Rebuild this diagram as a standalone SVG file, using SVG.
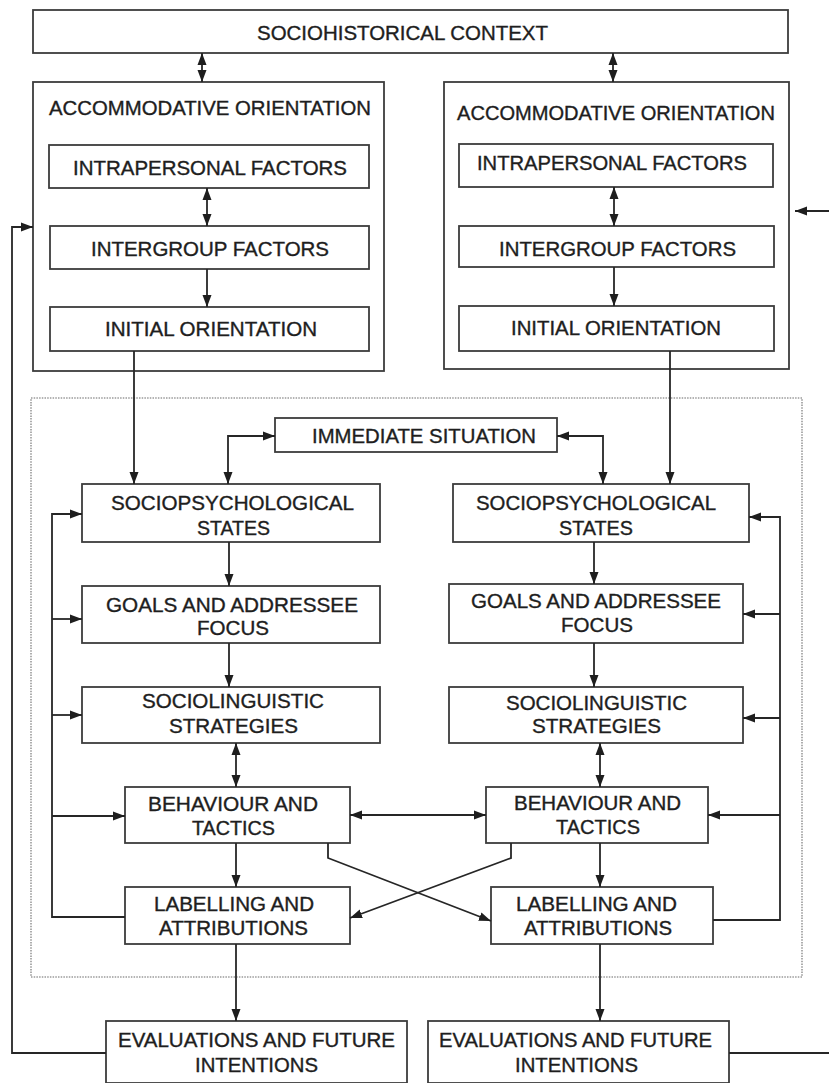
<svg xmlns="http://www.w3.org/2000/svg" width="829" height="1083" viewBox="0 0 829 1083">
  <style>
    .box { fill: #ffffff; stroke: #3c3c3c; stroke-width: 1.8; }
    .frame { fill: none; stroke: #9a9a9a; stroke-width: 1.6; stroke-dasharray: 1.5 1.2; }
    .lbl { font-family: "Liberation Sans", Arial, sans-serif; font-size: 19.5px; fill: #1e1e1e; stroke: #1e1e1e; stroke-width: 0.35; }
    .wire { fill: none; stroke: #262626; stroke-width: 1.8; }
    .one { marker-end: url(#head); }
    .two { marker-start: url(#head); marker-end: url(#head); }
  </style>
  <defs>
    <marker id="head" markerUnits="userSpaceOnUse" markerWidth="12" markerHeight="10" viewBox="0 0 12 10" refX="12" refY="5" orient="auto-start-reverse">
      <path d="M0,0.5 L12,5 L0,9.5 z" fill="#1e1e1e"/>
    </marker>
  </defs>

  <rect width="829" height="1083" fill="#ffffff"/>

  <!-- interaction frame -->
  <rect class="frame" x="31" y="398" width="771" height="579"/>

  <g id="sociohistorical-context">
    <rect class="box" x="33" y="10" width="755" height="43"/>
    <text class="lbl" x="257" y="40" textLength="291" lengthAdjust="spacingAndGlyphs">SOCIOHISTORICAL CONTEXT</text>
  </g>

  <g id="orientation-left">
    <rect class="box" x="33" y="82" width="351" height="289"/>
    <text class="lbl" x="49" y="115" textLength="322" lengthAdjust="spacingAndGlyphs">ACCOMMODATIVE ORIENTATION</text>
  </g>
  <g id="intrapersonal-left">
    <rect class="box" x="49" y="145" width="320" height="43"/>
    <text class="lbl" x="73" y="175" textLength="274" lengthAdjust="spacingAndGlyphs">INTRAPERSONAL FACTORS</text>
  </g>
  <g id="intergroup-left">
    <rect class="box" x="50" y="226" width="319" height="43"/>
    <text class="lbl" x="91" y="256" textLength="238" lengthAdjust="spacingAndGlyphs">INTERGROUP FACTORS</text>
  </g>
  <g id="initial-left">
    <rect class="box" x="50" y="307" width="319" height="44"/>
    <text class="lbl" x="105" y="336" textLength="212" lengthAdjust="spacingAndGlyphs">INITIAL ORIENTATION</text>
  </g>

  <g id="orientation-right">
    <rect class="box" x="444" y="82" width="345" height="287"/>
    <text class="lbl" x="457" y="120" textLength="318" lengthAdjust="spacingAndGlyphs">ACCOMMODATIVE ORIENTATION</text>
  </g>
  <g id="intrapersonal-right">
    <rect class="box" x="459" y="144" width="314" height="43"/>
    <text class="lbl" x="477" y="170" textLength="270" lengthAdjust="spacingAndGlyphs">INTRAPERSONAL FACTORS</text>
  </g>
  <g id="intergroup-right">
    <rect class="box" x="459" y="226" width="315" height="41"/>
    <text class="lbl" x="499" y="256" textLength="237" lengthAdjust="spacingAndGlyphs">INTERGROUP FACTORS</text>
  </g>
  <g id="initial-right">
    <rect class="box" x="459" y="306" width="315" height="45"/>
    <text class="lbl" x="511" y="335" textLength="210" lengthAdjust="spacingAndGlyphs">INITIAL ORIENTATION</text>
  </g>

  <g id="immediate-situation">
    <rect class="box" x="275" y="418" width="282" height="34"/>
    <text class="lbl" x="312" y="443" textLength="224" lengthAdjust="spacingAndGlyphs">IMMEDIATE SITUATION</text>
  </g>

  <g id="states-left">
    <rect class="box" x="82" y="484" width="298" height="58"/>
    <text class="lbl" x="111" y="510" textLength="243" lengthAdjust="spacingAndGlyphs">SOCIOPSYCHOLOGICAL</text>
    <text class="lbl" x="197" y="535" textLength="73" lengthAdjust="spacingAndGlyphs">STATES</text>
  </g>
  <g id="states-right">
    <rect class="box" x="453" y="484" width="296" height="58"/>
    <text class="lbl" x="476" y="510" textLength="240" lengthAdjust="spacingAndGlyphs">SOCIOPSYCHOLOGICAL</text>
    <text class="lbl" x="559" y="535" textLength="74" lengthAdjust="spacingAndGlyphs">STATES</text>
  </g>

  <g id="goals-left">
    <rect class="box" x="82" y="586" width="298" height="57"/>
    <text class="lbl" x="106" y="612" textLength="252" lengthAdjust="spacingAndGlyphs">GOALS AND ADDRESSEE</text>
    <text class="lbl" x="197" y="635" textLength="72" lengthAdjust="spacingAndGlyphs">FOCUS</text>
  </g>
  <g id="goals-right">
    <rect class="box" x="449" y="584" width="294" height="59"/>
    <text class="lbl" x="471" y="608" textLength="250" lengthAdjust="spacingAndGlyphs">GOALS AND ADDRESSEE</text>
    <text class="lbl" x="561" y="632" textLength="72" lengthAdjust="spacingAndGlyphs">FOCUS</text>
  </g>

  <g id="strategies-left">
    <rect class="box" x="82" y="687" width="298" height="56"/>
    <text class="lbl" x="142" y="708" textLength="182" lengthAdjust="spacingAndGlyphs">SOCIOLINGUISTIC</text>
    <text class="lbl" x="169" y="733" textLength="129" lengthAdjust="spacingAndGlyphs">STRATEGIES</text>
  </g>
  <g id="strategies-right">
    <rect class="box" x="449" y="687" width="294" height="56"/>
    <text class="lbl" x="506" y="710" textLength="181" lengthAdjust="spacingAndGlyphs">SOCIOLINGUISTIC</text>
    <text class="lbl" x="532" y="733" textLength="129" lengthAdjust="spacingAndGlyphs">STRATEGIES</text>
  </g>

  <g id="behaviour-left">
    <rect class="box" x="125" y="787" width="225" height="56"/>
    <text class="lbl" x="148" y="811" textLength="170" lengthAdjust="spacingAndGlyphs">BEHAVIOUR AND</text>
    <text class="lbl" x="192" y="835" textLength="83" lengthAdjust="spacingAndGlyphs">TACTICS</text>
  </g>
  <g id="behaviour-right">
    <rect class="box" x="486" y="787" width="222" height="56"/>
    <text class="lbl" x="514" y="810" textLength="167" lengthAdjust="spacingAndGlyphs">BEHAVIOUR AND</text>
    <text class="lbl" x="556" y="834" textLength="84" lengthAdjust="spacingAndGlyphs">TACTICS</text>
  </g>

  <g id="labelling-left">
    <rect class="box" x="125" y="887" width="225" height="57"/>
    <text class="lbl" x="154" y="911" textLength="160" lengthAdjust="spacingAndGlyphs">LABELLING AND</text>
    <text class="lbl" x="159" y="935" textLength="149" lengthAdjust="spacingAndGlyphs">ATTRIBUTIONS</text>
  </g>
  <g id="labelling-right">
    <rect class="box" x="491" y="887" width="222" height="57"/>
    <text class="lbl" x="516" y="911" textLength="161" lengthAdjust="spacingAndGlyphs">LABELLING AND</text>
    <text class="lbl" x="524" y="935" textLength="148" lengthAdjust="spacingAndGlyphs">ATTRIBUTIONS</text>
  </g>

  <g id="evaluations-left">
    <rect class="box" x="106" y="1021" width="301" height="62"/>
    <text class="lbl" x="118" y="1047" textLength="277" lengthAdjust="spacingAndGlyphs">EVALUATIONS AND FUTURE</text>
    <text class="lbl" x="195" y="1072" textLength="123" lengthAdjust="spacingAndGlyphs">INTENTIONS</text>
  </g>
  <g id="evaluations-right">
    <rect class="box" x="428" y="1021" width="301" height="62"/>
    <text class="lbl" x="439" y="1047" textLength="273" lengthAdjust="spacingAndGlyphs">EVALUATIONS AND FUTURE</text>
    <text class="lbl" x="515" y="1072" textLength="123" lengthAdjust="spacingAndGlyphs">INTENTIONS</text>
  </g>

  <g id="connectors">
    <!-- context to both orientations -->
    <path class="wire two" d="M202,53 V82"/>
    <path class="wire two" d="M613,53 V82"/>
    <!-- inside the orientation panels -->
    <path class="wire two" d="M207,188 V226"/>
    <path class="wire one" d="M207,269 V307"/>
    <path class="wire two" d="M614,187 V226"/>
    <path class="wire one" d="M614,267 V306"/>
    <!-- initial orientation down to sociopsychological states -->
    <path class="wire one" d="M134,351 V484"/>
    <path class="wire one" d="M670,351 V484"/>
    <!-- immediate situation links -->
    <path class="wire two" d="M275,436 H228 V484"/>
    <path class="wire two" d="M557,436 H603 V484"/>
    <!-- left column -->
    <path class="wire one" d="M229,542 V586"/>
    <path class="wire one" d="M229,643 V687"/>
    <path class="wire two" d="M236,743 V787"/>
    <path class="wire one" d="M236,843 V887"/>
    <path class="wire one" d="M236,944 V1021"/>
    <!-- right column -->
    <path class="wire one" d="M594,542 V584"/>
    <path class="wire one" d="M594,643 V687"/>
    <path class="wire two" d="M600,743 V787"/>
    <path class="wire one" d="M600,843 V887"/>
    <path class="wire one" d="M600,944 V1021"/>
    <!-- behaviour to behaviour -->
    <path class="wire two" d="M350,815 H486"/>
    <!-- crossed links to the opposite labelling -->
    <path class="wire one" d="M328,843 V858 L491,921"/>
    <path class="wire one" d="M511,843 V858 L350,918"/>
    <!-- left feedback loop -->
    <path class="wire one" d="M125,917 H52 V514 H82"/>
    <path class="wire one" d="M52,619 H82"/>
    <path class="wire one" d="M52,715 H82"/>
    <path class="wire one" d="M52,816 H125"/>
    <!-- right feedback loop -->
    <path class="wire one" d="M713,920 H780 V517 H749"/>
    <path class="wire one" d="M780,614 H743"/>
    <path class="wire one" d="M780,718 H743"/>
    <path class="wire one" d="M780,815 H708"/>
    <!-- outer loops from evaluations back to orientations -->
    <path class="wire one" d="M106,1053 H12 V227 H33"/>
    <path class="wire one" d="M729,1053 H832 V211 H795"/>
  </g>
</svg>
